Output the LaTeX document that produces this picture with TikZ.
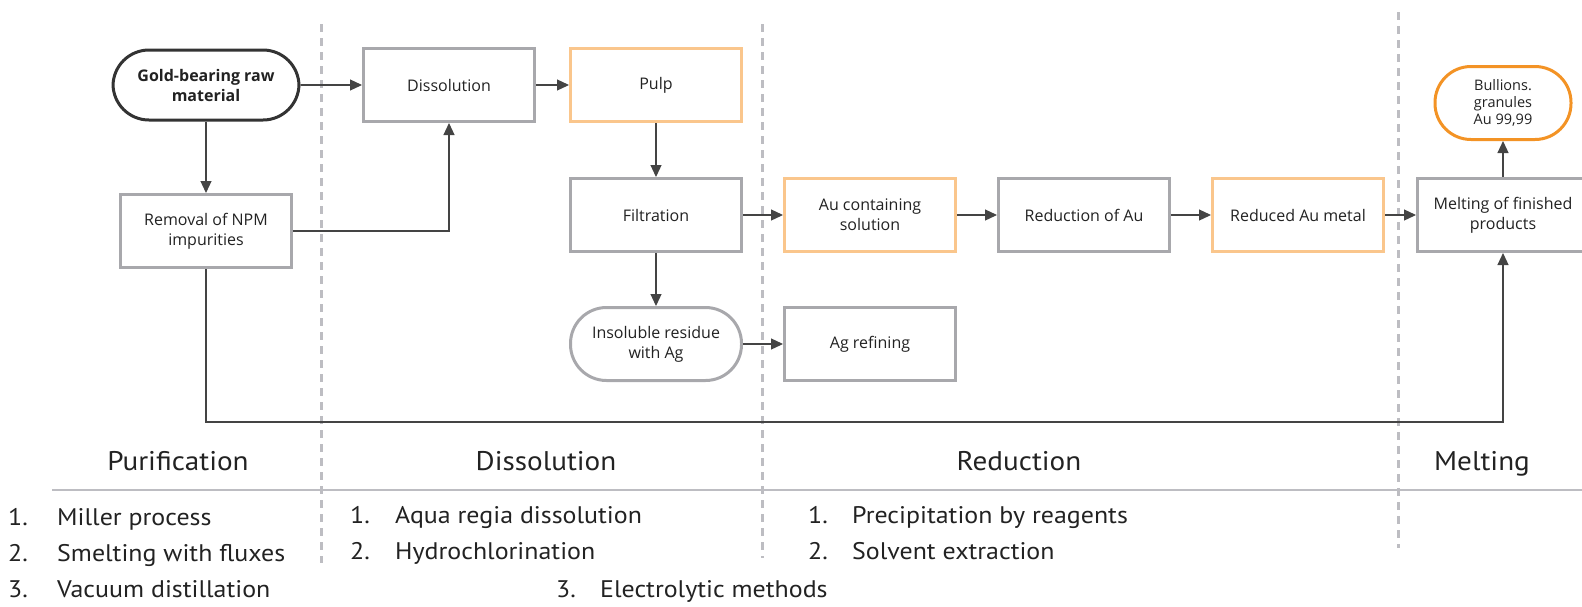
\documentclass[tikz,border=0pt]{standalone}
\usepackage{fontspec}
\setmainfont{Open Sans}
\newfontfamily\labelfont[FakeStretch=1.08]{PT Sans}
\usetikzlibrary{arrows.meta}
\definecolor{boxgray}{HTML}{A8A8AC}
\definecolor{lightorange}{HTML}{FAC68C}
\definecolor{darkorange}{HTML}{F39325}
\definecolor{linkgray}{HTML}{444444}
\definecolor{lanegray}{HTML}{BDBDC2}
\definecolor{textdark}{HTML}{222222}
\tikzset{
  stepbox/.style={draw=boxgray, line width=3pt, fill=white, minimum width=171pt,
    minimum height=73pt, align=center, inner sep=2pt, font=\fontsize{16}{20}\selectfont,
    text=textdark},
  productbox/.style={stepbox, draw=lightorange},
  roundbox/.style={stepbox, rounded corners=36pt},
  flow/.style={draw=linkgray, line width=1.2pt, -{Triangle[length=12pt,width=11pt]}},
  lane/.style={draw=lanegray, line width=3pt, dash pattern=on 8pt off 6pt},
  phase/.style={font=\labelfont\fontsize{27}{30}\selectfont, text=textdark, anchor=base},
  listnum/.style={font=\labelfont\fontsize{24}{28}\selectfont, text=textdark,
    anchor=base west, inner sep=0pt},
}
\begin{document}
\begin{tikzpicture}[x=1pt,y=-1pt]
\useasboundingbox (0,0) rectangle (1582,606);

% phase separators
\draw[lane] (321,24) -- (321,563);
\draw[lane] (762,24) -- (762,558);
\draw[lane] (1398,12) -- (1398,548);
\draw[lanegray, line width=2pt] (52,490) -- (1582,490);

% process steps
\node[roundbox, draw=black!80, minimum width=186pt, minimum height=70pt,
      font=\bfseries\fontsize{16}{20}\selectfont] (raw) at (206,85) {Gold-bearing raw\\material};
\node[stepbox] (npm) at (206,231) {Removal of NPM\\impurities};
\node[stepbox] (diss) at (449,85) {Dissolution};
\node[productbox] (pulp) at (656,85) {Pulp};
\node[stepbox] (filt) at (656,215) {Filtration};
\node[roundbox] (resid) at (656,344) {Insoluble residue\\with Ag};
\node[productbox] (ausol) at (870,215) {Au containing\\solution};
\node[stepbox] (agref) at (870,344) {Ag refining};
\node[stepbox] (redau) at (1084,215) {Reduction of Au};
\node[productbox] (aumet) at (1298,215) {Reduced Au metal};
\node[stepbox] (melt) at (1503,215) {Melting of finished\\products};
\node[roundbox, draw=darkorange, minimum width=136pt, minimum height=73pt,
      font=\fontsize{14.5}{17}\selectfont] (bull) at (1503,103) {Bullions.\\granules\\Au 99,99};

% connectors
\draw[flow] (raw) -- (diss);
\draw[flow] (raw) -- (npm);
\draw[flow] (npm.east) -| (diss.south);
\draw[flow] (diss) -- (pulp);
\draw[flow] (pulp) -- (filt);
\draw[flow] (filt) -- (resid);
\draw[flow] (filt) -- (ausol);
\draw[flow] (resid) -- (agref);
\draw[flow] (ausol) -- (redau);
\draw[flow] (redau) -- (aumet);
\draw[flow] (aumet) -- (melt);
\draw[flow] (melt) -- (bull);
\coordinate (loopL) at (206,422);
\coordinate (loopR) at (1503,422);
\draw[flow] (npm.south) -- (loopL) -- (loopR) -- (melt.south);

% phase titles
\node[phase] (tpur) at (178,470) {Purification};
\node[phase] (tdis) at (546,470) {Dissolution};
\node[phase] (tred) at (1019,470) {Reduction};
\node[phase] (tmel) at (1482,470) {Melting};

% methods of each phase
\node[listnum] (p1) at (8,525) {1.};
\node[listnum] (p1t) at (57,525) {Miller process};
\node[listnum] (p2) at (8,561) {2.};
\node[listnum] (p2t) at (57,561) {Smelting with fluxes};
\node[listnum] (p3) at (8,597) {3.};
\node[listnum] (p3t) at (57,597) {Vacuum distillation};

\node[listnum] (d1) at (350,523) {1.};
\node[listnum] (d1t) at (395,523) {Aqua regia dissolution};
\node[listnum] (d2) at (350,559) {2.};
\node[listnum] (d2t) at (395,559) {Hydrochlorination};
\node[listnum] (d3) at (556,597) {3.};
\node[listnum] (d3t) at (600,597) {Electrolytic methods};

\node[listnum] (r1) at (808,523) {1.};
\node[listnum] (r1t) at (852,523) {Precipitation by reagents};
\node[listnum] (r2) at (808,559) {2.};
\node[listnum] (r2t) at (852,559) {Solvent extraction};
\end{tikzpicture}
\end{document}
